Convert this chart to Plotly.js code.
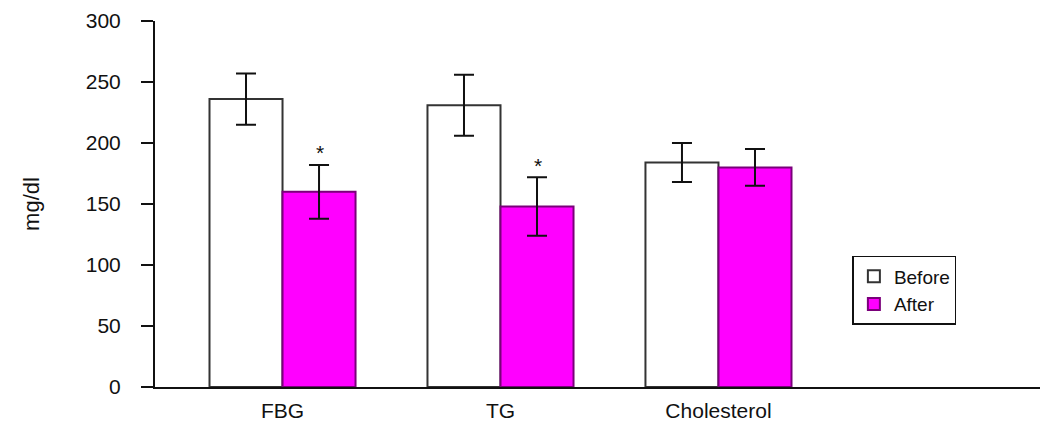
<!DOCTYPE html>
<html>
<head>
<meta charset="utf-8">
<script src="https://cdn.plot.ly/plotly-3.0.1.min.js"></script>
<style>body{margin:0;background:#fff}#chart{width:1055px;height:423px}</style>
</head>
<body>
<div id="chart"></div>
<script>
const categories = ["FBG", "TG", "Cholesterol"];
const beforeValues = [236, 231, 184];
const beforeErrors = [21, 25, 16];
const afterValues = [160, 148, 180];
const afterErrors = [22, 24, 15];
const significance = ["*", "*", ""];
const yTicks = [0, 50, 100, 150, 200, 250, 300];

const font = "Liberation Sans, Arial, sans-serif";

const traces = [
  {
    type: "bar", name: "Before", x: categories, y: beforeValues,
    marker: {color: "#ffffff", line: {color: "#333333", width: 2}},
    error_y: {type: "data", array: beforeErrors, visible: true, color: "#111111", thickness: 2, width: 10}
  },
  {
    type: "bar", name: "After", x: categories, y: afterValues,
    marker: {color: "#ff00ff", line: {color: "#7a007a", width: 2}},
    error_y: {type: "data", array: afterErrors, visible: true, color: "#111111", thickness: 2, width: 10}
  }
];

const annotations = categories.map((c, i) => ({
  x: c, y: afterValues[i] + afterErrors[i], xref: "x", yref: "y",
  text: significance[i], showarrow: false, xshift: 37, yshift: 12,
  font: {family: font, size: 21, color: "#111"}
})).filter(a => a.text);

const layout = {
  width: 1055, height: 423,
  margin: {l: 155, r: 15, t: 21, b: 36},
  paper_bgcolor: "#fff", plot_bgcolor: "#fff",
  barmode: "group", bargap: 0.33, bargroupgap: 0,
  showlegend: true,
  legend: {
    xref: "paper", yref: "paper",
    x: 0.788, y: 0.358, xanchor: "left", yanchor: "top",
    bordercolor: "#111", borderwidth: 1.5, bgcolor: "#fff",
    font: {family: font, size: 19, color: "#111"},
    itemwidth: 30, tracegroupgap: 0
  },
  xaxis: {
    range: [-0.585, 3.475], showline: true, linecolor: "#111", linewidth: 2,
    ticks: "", showgrid: false, zeroline: false, fixedrange: true,
    tickfont: {family: font, size: 21, color: "#111"}, ticklabelstandoff: 4
  },
  yaxis: {
    range: [0, 300], tickvals: yTicks, showline: true, linecolor: "#111", linewidth: 2,
    ticks: "outside", ticklen: 12, tickwidth: 2, tickcolor: "#111",
    showgrid: false, zeroline: false,
    tickfont: {family: font, size: 21, color: "#111"}, ticklabelstandoff: 16,
    title: {text: "mg/dl", font: {family: font, size: 22, color: "#111"}, standoff: 40}
  },
  annotations: annotations
};

Plotly.newPlot("chart", traces, layout, {displayModeBar: false, staticPlot: true});
</script>
</body>
</html>
